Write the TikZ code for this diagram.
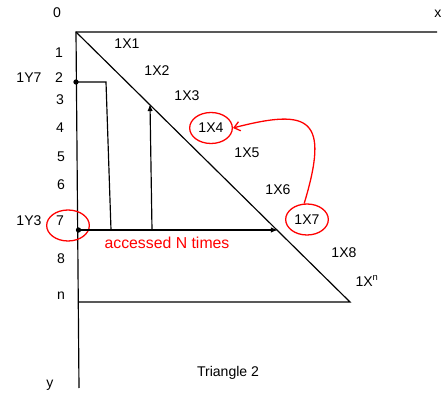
\documentclass[tikz,border=0pt]{standalone}
\usepackage{fontspec}
\setmainfont{Liberation Sans}
\usetikzlibrary{arrows.meta,shapes.geometric}
\tikzset{
  lbl/.style={font=\fontsize{12}{14}\selectfont, inner sep=0pt},
  ring/.style={draw=red, line width=1.1pt, ellipse, inner sep=0pt, minimum width=1.28cm, minimum height=0.93cm},
  dot/.style={circle, fill=black, inner sep=1.6pt},
  stroke/.style={line width=1pt},
}
\begin{document}
\begin{tikzpicture}[x=0.03cm,y=-0.03cm]
    \useasboundingbox (0,0) rectangle (446,399);

    % Axes and triangle
    \coordinate (O) at (76,32);
    \coordinate (xend) at (437,32);
    \coordinate (yend) at (79,388);
    \coordinate (hyp) at (350,302);
    \coordinate (nleft) at (78,302);
    \draw[stroke] (xend) -- (O) -- (yend);
    \draw[stroke] (O) -- (hyp) -- (nleft);

    % Axis labels
    \node[lbl] (r0) at (57,13) {0};
    \node[lbl] (ax) at (438,14) {x};
    \node[lbl] (ay) at (50,385) {y};
    \node[lbl] (r1) at (59,53) {1};
    \node[lbl] (r2) at (59,78) {2};
    \node[lbl] (r3) at (60,100) {3};
    \node[lbl] (r4) at (60,128) {4};
    \node[lbl] (r5) at (61,157) {5};
    \node[lbl] (r6) at (61,185) {6};
    \node[lbl] (r7) at (60,221) {7};
    \node[lbl] (r8) at (61,259) {8};
    \node[lbl] (rn) at (61,296) {n};
    \node[lbl] (y7) at (29,78) {1Y7};
    \node[lbl] (y3) at (29,221) {1Y3};

    % Cells along the diagonal
    \node[lbl] (x1) at (127,44) {1X1};
    \node[lbl] (x2) at (157,71) {1X2};
    \node[lbl] (x3) at (187,96) {1X3};
    \node[lbl, ring] (x4) at (211,128) {1X4};
    \node[lbl] (x5) at (247,153) {1X5};
    \node[lbl] (x6) at (278,190) {1X6};
    \node[lbl, ring] (x7) at (307,219.5) {1X7};
    \node[lbl] (x8) at (344,253) {1X8};
    \node[lbl] (xn) at (367,281) {1X$^{\mathrm{n}}$};
    \node[ring] (c7) at (68,225.5) {};

    % Access paths
    \node[dot] (d2) at (76,82) {};
    \node[dot] (d7) at (78.5,230) {};
    \coordinate (t2) at (106,82);
    \coordinate (b2) at (111,230);
    \coordinate (hit) at (278,230);
    \coordinate (up0) at (152,230);
    \coordinate (up1) at (150,104);
    \draw[stroke] (d2.center) -- (t2) -- (b2);
    \draw[stroke, -{Latex[length=6pt,width=4.5pt]}] (d7.center) -- (hit);
    \draw[stroke, -{Latex[length=6pt,width=4.5pt]}] (up0) -- (up1);
    \node[font=\fontsize{13.5}{15}\selectfont, text=red, inner sep=0pt] (acc) at (167,243) {accessed N times};

    % Jump from 1X7 back to 1X4
    \draw[red, line width=1.1pt, -{Straight Barb[length=5pt,width=8pt]}] (x7.100) .. controls (330,118) and (310,108) .. (x4.east);

    \node[lbl] (title) at (228,373) {Triangle 2};
\end{tikzpicture}
\end{document}
